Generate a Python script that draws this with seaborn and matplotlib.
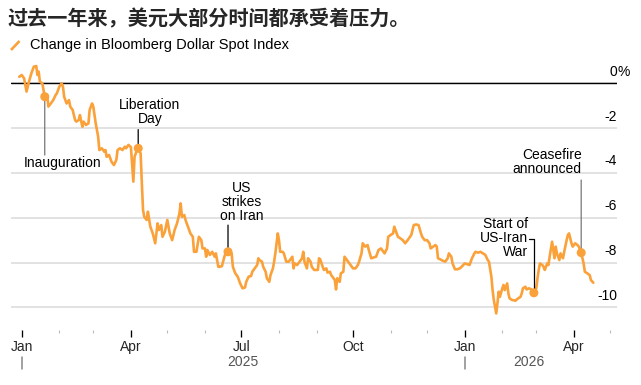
# 美元指数（Bloomberg Dollar Spot Index）过去一年的变化

import matplotlib
matplotlib.use("Agg")
import matplotlib.pyplot as plt
import matplotlib.dates as mdates
import matplotlib.transforms as mtransforms
from matplotlib.lines import Line2D
import pandas as pd
import seaborn as sns


TITLE = "过去一年来，美元大部分时间都承受着压力。"
SERIES_NAME = "Change in Bloomberg Dollar Spot Index"
START = pd.Timestamp("2025-01-01")

# days since 2025-01-01, change in %
DAYS = [
    -2, 0, 2, 4, 6, 8, 10, 12, 13, 14, 15, 17, 19, 21, 22, 24, 26, 28, 29, 31,
    33, 34, 35, 37, 39, 40, 42, 44, 45, 47, 48, 50, 51, 53, 55, 56, 58, 59, 61, 63,
    64, 66, 68, 69, 70, 72, 74, 76, 78, 79, 81, 83, 85, 86, 88, 90, 92, 93, 95, 96,
    98, 99, 100, 101, 103, 104, 106, 108, 110, 112, 113, 115, 116, 118, 120, 122, 124, 126, 128, 130,
    131, 132, 134, 135, 137, 139, 141, 142, 144, 146, 148, 149, 151, 152, 153, 155, 157, 159, 160, 162,
    163, 165, 167, 169, 170, 173, 174, 176, 178, 180, 182, 184, 185, 187, 189, 190, 192, 194, 195, 196,
    198, 199, 201, 202, 204, 205, 207, 208, 209, 210, 211, 212, 213, 215, 216, 218, 220, 221, 223, 224,
    225, 227, 229, 231, 232, 233, 235, 236, 238, 239, 241, 244, 245, 246, 248, 249, 251, 252, 254, 255,
    256, 258, 259, 260, 262, 263, 265, 266, 268, 269, 271, 273, 275, 277, 278, 280, 281, 283, 285, 286,
    288, 290, 292, 294, 296, 297, 299, 301, 302, 304, 306, 307, 308, 310, 312, 314, 316, 318, 320, 321,
    323, 325, 327, 329, 330, 332, 334, 336, 337, 339, 341, 342, 343, 345, 347, 349, 351, 352, 354, 355,
    357, 359, 361, 363, 365, 367, 369, 371, 373, 374, 376, 378, 380, 382, 384, 385, 387, 388, 389, 391,
    392, 393, 394, 396, 397, 398, 400, 401, 402, 404, 407, 408, 411, 412, 413, 415, 416, 418, 420, 422,
    424, 425, 426, 427, 429, 430, 431, 433, 434, 435, 437, 438, 439, 440, 441, 443, 444, 446, 447, 449,
    450, 451, 453, 454, 456, 458, 459, 461, 463, 464, 466, 468, 469, 471,
]
CHANGE_PCT = [
    0.29, 0.37, 0.22, -0.37, 0.07, 0.45, 0.74, 0.77, 0.37, 0.52, 0.07, 0.0, -0.6, -0.52, -1.04, -0.9, -0.75, -0.52, -0.45, -0.15,
    0.0, -0.15, -0.6, -0.9, -0.75, -1.04, -1.19, -1.64, -1.71, -1.64, -1.42, -1.94, -1.71, -1.86, -1.79, -1.19, -0.9, -1.04, -1.79, -2.38,
    -2.98, -2.9, -3.05, -2.98, -3.28, -3.2, -3.5, -3.65, -3.42, -2.98, -2.9, -2.98, -2.83, -2.9, -2.75, -2.85, -4.39, -3.28, -2.98, -2.9,
    -3.13, -4.46, -5.66, -5.96, -6.1, -5.73, -6.4, -6.7, -7.14, -6.25, -6.55, -6.33, -6.85, -6.62, -6.1, -6.7, -7.0, -6.55, -6.25, -5.8,
    -5.36, -5.96, -5.88, -6.1, -6.4, -6.7, -6.85, -7.52, -7.52, -6.85, -7.0, -7.37, -7.37, -7.74, -7.44, -7.66, -7.52, -7.74, -7.59, -8.19,
    -8.19, -8.16, -7.74, -7.44, -7.52, -7.59, -8.19, -8.48, -8.63, -8.93, -9.15, -9.11, -8.86, -8.63, -8.6, -8.41, -8.26, -8.11, -7.81, -7.89,
    -7.96, -8.19, -8.41, -8.7, -8.86, -8.56, -8.26, -7.96, -7.59, -7.14, -6.7, -7.0, -7.52, -7.52, -7.59, -7.96, -7.96, -7.89, -7.74, -8.26,
    -8.04, -8.11, -7.96, -7.81, -7.52, -7.96, -8.26, -7.81, -7.96, -8.19, -8.33, -8.33, -7.81, -7.86, -8.19, -8.33, -8.26, -8.45, -8.41, -8.56,
    -8.63, -8.78, -9.2, -8.7, -8.86, -8.48, -8.41, -7.74, -7.89, -7.96, -8.11, -8.26, -8.26, -8.11, -7.96, -7.59, -7.14, -7.29, -7.22, -7.44,
    -7.81, -7.77, -7.74, -7.44, -7.37, -7.44, -7.59, -7.37, -6.85, -6.77, -6.7, -6.4, -6.55, -6.85, -6.92, -7.0, -7.14, -7.0, -6.85, -6.77,
    -6.33, -6.3, -6.33, -6.7, -6.85, -7.0, -7.0, -7.14, -7.37, -7.29, -7.22, -7.29, -7.81, -7.86, -7.92, -7.96, -7.81, -7.59, -7.74, -8.04,
    -8.3, -8.3, -8.26, -8.16, -8.04, -8.07, -8.11, -7.81, -7.59, -7.52, -7.56, -7.52, -7.59, -7.66, -7.89, -7.96, -8.63, -9.23, -9.67, -10.27,
    -9.82, -9.3, -9.53, -9.15, -9.0, -9.23, -8.93, -9.38, -9.6, -9.67, -9.7, -9.64, -9.53, -9.38, -9.15, -9.08, -9.2, -9.15, -9.2, -9.35,
    -9.15, -8.7, -8.33, -8.04, -8.11, -8.19, -8.33, -8.04, -8.11, -7.74, -7.07, -7.44, -7.81, -7.29, -7.59, -7.89, -7.59, -7.81, -7.52, -7.0,
    -6.77, -6.7, -7.14, -7.29, -7.14, -7.22, -7.29, -7.56, -8.04, -8.41, -8.48, -8.56, -8.78, -8.9,
]

EVENT_LABELS = ["Inauguration", "Liberation\nDay", "US\nstrikes\non Iran",
                "Start of\nUS-Iran\nWar", "Ceasefire\nannounced"]
EVENT_DATES = ["2025-01-20", "2025-04-07", "2025-06-20", "2026-02-27", "2026-04-07"]

Y_TICKS = [0, -2, -4, -6, -8, -10]
YEARS = ["2025", "2026"]

ORANGE = "#FBA13A"
PX = 72 / 100  # points per pixel at dpi 100


def setup_plot_style() -> None:
    sns.set_theme(style="white")
    plt.rcParams["font.family"] = ["Liberation Sans", "DejaVu Sans"]
    plt.rcParams["axes.unicode_minus"] = False


if __name__ == "__main__":
    setup_plot_style()

    df = pd.DataFrame({"day": DAYS, "change": CHANGE_PCT})
    df["date"] = START + pd.to_timedelta(df["day"], unit="D")

    ev = pd.DataFrame({"label": EVENT_LABELS, "date": pd.to_datetime(EVENT_DATES)})
    ev = ev.merge(df[["date", "change"]], on="date", how="left")

    fig = plt.figure(figsize=(6.41, 3.85), dpi=100)
    ax = fig.add_axes([11 / 641, 55 / 385, 606 / 641, 268 / 385])

    sns.lineplot(data=df, x="date", y="change", color=ORANGE, linewidth=1.9,
                 ax=ax, zorder=3)

    ax.set_xlim(START + pd.Timedelta(days=-8.8), START + pd.Timedelta(days=490.5))
    ax.set_ylim(-11.01, 0.95)

    # horizontal grid
    ax.set_yticks(Y_TICKS)
    ax.yaxis.grid(True, color="#dadada", linewidth=1.1)
    ax.axhline(0, color="black", linewidth=1.0, zorder=2)
    ax.tick_params(axis="y", left=False, right=False, labelleft=False)
    for s in ax.spines.values():
        s.set_visible(False)
    ax.set_xlabel("")
    ax.set_ylabel("")

    # y labels sit above the gridlines, right side
    lab_tr = mtransforms.blended_transform_factory(ax.transAxes, ax.transData)
    lab_tr = lab_tr + mtransforms.ScaledTranslation(0, 11.5 / 100, fig.dpi_scale_trans)
    for t in Y_TICKS:
        ax.text(1.0, t, f"{t}", transform=lab_tr, ha="right", va="center",
                fontsize=10, color="black")
        if t == 0:
            ax.text(1.0, t, "%", transform=lab_tr, ha="left", va="center",
                    fontsize=10, color="black")

    # x axis
    ax.xaxis.set_major_locator(mdates.MonthLocator(bymonth=[1, 4, 7, 10]))
    ax.xaxis.set_minor_locator(mdates.MonthLocator())
    ax.xaxis.set_major_formatter(mdates.DateFormatter("%b"))
    ax.tick_params(axis="x", which="major", bottom=True, length=5, width=0.95,
                   color="black", pad=2.5, labelsize=10, direction="out")
    ax.tick_params(axis="x", which="minor", bottom=True, length=2.5, width=0.8,
                   color="#bbbbbb", direction="out")

    # year row
    last = df["date"].max()
    for y in YEARS:
        y0 = pd.Timestamp(f"{y}-01-01")
        y1 = min(pd.Timestamp(f"{y}-12-31"), last)
        mid = y0 + (y1 - y0) / 2
        ax.add_line(Line2D([y0, y0], [-27 / 268, -39 / 268],
                           transform=ax.get_xaxis_transform(), color="#888888",
                           linewidth=1.1, clip_on=False))
        ax.annotate(y, xy=(mid, 0), xycoords=("data", "axes fraction"),
                    xytext=(0, -31.5 * PX), textcoords="offset points",
                    ha="center", va="center", fontsize=10, color="#555555")

    # event markers
    sns.scatterplot(data=ev, x="date", y="change", color=ORANGE, s=42,
                    edgecolor="none", ax=ax, zorder=5, legend=False)
    ax.set_xlabel("")
    ax.set_ylabel("")

    # (text dx, text dy, ha, leader start dx, leader start dy, leader colour, elbow)
    layout = [
        (-21.3, -66.3, "left", 0, -58.3, "#777777", False),
        (11.7, 36.0, "center", 0, 18.7, "black", False),
        (13.4, 50.0, "center", 0, 26.7, "black", False),
        (-5.7, 55.1, "right", -4.7, 53.4, "black", True),
        (0.6, 90.5, "right", 0, 72.7, "#777777", False),
    ]
    for (_, row), (tx, ty, ha, lx, ly, lc, elbow) in zip(ev.iterrows(), layout):
        ax.annotate(row["label"], xy=(row["date"], row["change"]),
                    xytext=(tx * PX, ty * PX), textcoords="offset points",
                    ha=ha, va="center", multialignment=ha, fontsize=10,
                    linespacing=1.0, color="black", zorder=6)
        cs = "angle,angleA=0,angleB=90,rad=0" if elbow else "arc3"
        ax.annotate("", xy=(row["date"], row["change"]),
                    xytext=(lx * PX, ly * PX), textcoords="offset points",
                    arrowprops=dict(arrowstyle="-", color=lc, lw=0.9,
                                    shrinkA=0, shrinkB=0, connectionstyle=cs),
                    zorder=4)

    # title and legend
    fig.text(8 / 641, 1 - 18.5 / 385, TITLE, fontsize=14.5, fontweight="bold",
             ha="left", va="center",
             family=["Noto Sans CJK SC", "DejaVu Sans"])
    fig.add_artist(Line2D([11 / 641, 19.5 / 641], [1 - 50 / 385, 1 - 41 / 385],
                          transform=fig.transFigure, color=ORANGE,
                          linewidth=1.9, solid_capstyle="butt"))
    fig.text(30 / 641, 1 - 45.5 / 385, SERIES_NAME, fontsize=10.5,
             ha="left", va="center", color="black")

    fig.savefig("out.png", dpi=100)
    plt.close(fig)
